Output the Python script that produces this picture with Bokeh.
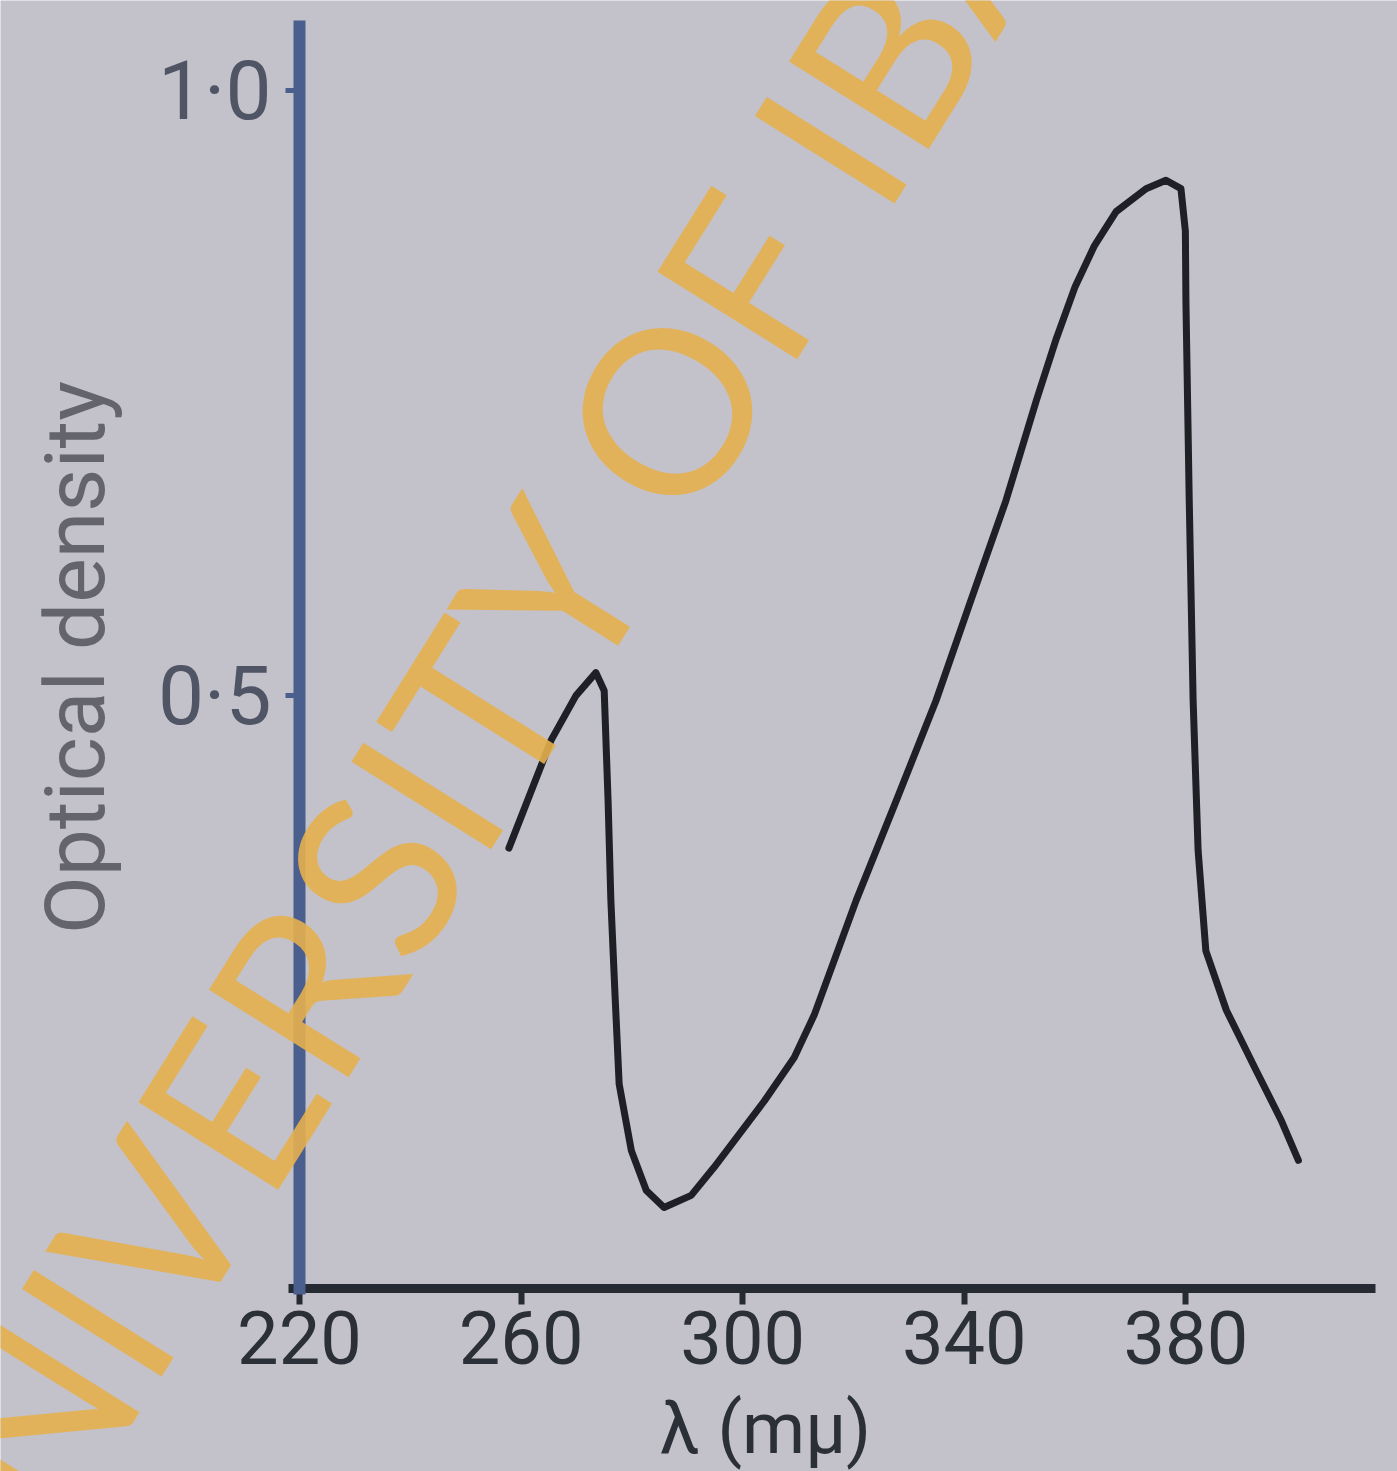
from bokeh.plotting import figure
from bokeh.models import Range1d, FixedTicker, Label
from bokeh.embed import file_html
from bokeh.resources import INLINE

# wavelength (mμ) and optical density
wavelength = [257.8, 265.4, 269.9, 273.5, 275.0, 275.7, 276.2, 277.0, 277.7, 279.9,
              282.6, 285.8, 290.7, 294.8, 303.9, 309.3, 312.9, 320.5, 327.7, 334.9,
              341.2, 347.5, 353.0, 356.6, 360.0, 363.5, 367.4, 372.8, 376.4, 379.1, 379.9,
              380.0, 380.6, 381.3, 382.2, 383.6, 387.3, 392.7, 397.2, 400.3]
optical_density = [0.374, 0.463, 0.500, 0.519, 0.504, 0.413, 0.331, 0.248, 0.179, 0.124,
                   0.091, 0.077, 0.087, 0.110, 0.165, 0.201, 0.236, 0.331, 0.413, 0.496,
                   0.579, 0.661, 0.744, 0.795, 0.838, 0.872, 0.900, 0.919, 0.926, 0.919, 0.884,
                   0.826, 0.661, 0.496, 0.372, 0.289, 0.240, 0.190, 0.149, 0.116]

x_ticks = [220, 260, 300, 340, 380]
x_tick_labels = ["220", "260", "300", "340", "380"]
y_ticks = [0.5, 1.0]
y_tick_labels = ["0·5", "1·0"]

x_title = "λ (mμ)"
y_title = "Optical density"
watermark = "UNIVERSITY OF IBADAN"

BG = "#c3c2ca"

p = figure(width=1397, height=1471, output_backend="svg", toolbar_location=None,
           x_range=Range1d(166.03, 418.19), y_range=Range1d(-0.1412, 1.0745),
           min_border=0)
p.background_fill_color = BG
p.border_fill_color = BG
p.outline_line_color = None
p.xgrid.visible = False
p.ygrid.visible = False

# curve
p.line(wavelength, optical_density, line_color="#1f2026", line_width=7,
       line_join="round", line_cap="round")

# x axis, drawn at OD = 0.01 and bounded like the hand-drawn one
xa = p.xaxis[0]
xa.fixed_location = 0.01
xa.bounds = (218, 414.3)
xa.ticker = FixedTicker(ticks=x_ticks)
xa.major_label_overrides = {t: l for t, l in zip(x_ticks, x_tick_labels)}
xa.axis_line_color = "#262a33"
xa.axis_line_width = 9
xa.major_tick_line_color = "#262a33"
xa.major_tick_line_width = 6
xa.major_tick_out = 16
xa.major_tick_in = 0
xa.minor_tick_line_color = None
xa.major_label_text_font = "Roboto"
xa.major_label_text_font_size = "74px"
xa.major_label_text_color = "#2b2f38"
xa.major_label_standoff = 6

# y axis, drawn at 220 mμ
ya = p.yaxis[0]
ya.fixed_location = 220
ya.bounds = (0.005, 1.058)
ya.ticker = FixedTicker(ticks=y_ticks)
ya.major_label_overrides = {t: l for t, l in zip(y_ticks, y_tick_labels)}
ya.axis_line_color = "#4b5f8e"
ya.axis_line_width = 12
ya.major_tick_line_color = "#4b5f8e"
ya.major_tick_line_width = 5
ya.major_tick_out = 14
ya.major_tick_in = 0
ya.minor_tick_line_color = None
ya.major_label_text_font = "Roboto"
ya.major_label_text_font_size = "82px"
ya.major_label_text_color = "#505566"
ya.major_label_standoff = 14
ya.axis_label = y_title
ya.axis_label_text_font = "Roboto"
ya.axis_label_text_font_size = "84px"
ya.axis_label_text_font_style = "normal"
ya.axis_label_text_color = "#64646c"
ya.axis_label_standoff = 30

# x title under the axis
p.add_layout(Label(x=304.1, y=-0.1057, text=x_title, text_align="center",
                   text_baseline="middle", text_font="Roboto", text_font_size="72px",
                   text_color="#2b2f38"))

# watermark
p.add_layout(Label(x=146.5, y=-0.280, text=watermark, angle=58, angle_units="deg",
                   text_align="left", text_baseline="alphabetic", text_font="Lato",
                   text_font_size="230px", text_color="#e6b04f", text_alpha=0.9))

open("out.html", "w").write(file_html(p, INLINE))
